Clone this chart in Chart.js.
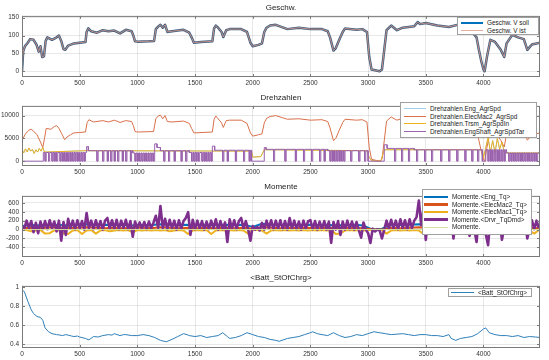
<!DOCTYPE html>
<html>
<head>
<meta charset="utf-8">
<script src="https://cdn.jsdelivr.net/npm/chart.js@4.4.0/dist/chart.umd.min.js"></script>
<style>
  body { margin: 0; background: #fff; }
  #fig { position: relative; width: 549px; height: 360px; overflow: hidden; font-family: "Liberation Sans", Arial, sans-serif; }
  canvas { position: absolute; left: 0; }
  .ttl { position: absolute; left: 22px; width: 518px; text-align: center; font-size: 8px; line-height: 10px; color: #222; }
  .lg { position: absolute; background: #fff; border: 1px solid #a0a0a0; font-size: 6.4px; color: #222; box-sizing: border-box; }
  .lg div { display: flex; align-items: center; height: 7.6px; line-height: 7.6px; white-space: nowrap; }
  .lg i { display: inline-block; flex: none; margin-right: 4px; }
</style>
</head>
<body>
<div id="fig">
  <canvas id="c1" width="549" height="79"></canvas>
  <canvas id="c2" width="549" height="78"></canvas>
  <canvas id="c3" width="549" height="79"></canvas>
  <canvas id="c4" width="549" height="80"></canvas>

  <div class="ttl" style="top:3px">Geschw.</div>
  <div class="ttl" style="top:93px">Drehzahlen</div>
  <div class="ttl" style="top:182px">Momente</div>
  <div class="ttl" style="top:273px">&lt;Batt_StOfChrg&gt;</div>

  <div class="lg" style="left:457px;top:17px;width:82px;height:18px;padding-top:1px">
    <div><i style="margin-left:3px;width:22px;height:2.5px;background:#0072bd"></i>Geschw. V soll</div>
    <div><i style="margin-left:3px;width:22px;height:1px;background:#e3aea0"></i>Geschw. V ist</div>
  </div>
  <div class="lg" style="left:400px;top:102px;width:137px;height:36px;padding-top:2px">
    <div><i style="margin-left:3px;width:22px;height:1px;background:#9fcfea"></i>Drehzahlen.Eng_AgrSpd</div>
    <div><i style="margin-left:3px;width:22px;height:1px;background:#d9704a"></i>Drehzahlen.ElecMac2_AgrSpd</div>
    <div><i style="margin-left:3px;width:22px;height:1px;background:#edb120"></i>Drehzahlen.Trsm_AgrSpdIn</div>
    <div><i style="margin-left:3px;width:22px;height:1px;background:#9a62ad"></i>Drehzahlen.EngShaft_AgrSpdTar</div>
  </div>
  <div class="lg" style="left:422px;top:189px;width:110px;height:46px;padding-top:3px">
    <div><i style="margin-left:1px;width:24px;height:2.5px;background:#0072bd"></i>Momente.&lt;Eng_Tq&gt;</div>
    <div><i style="margin-left:1px;width:24px;height:2.5px;background:#d95319"></i>Momente.&lt;ElecMac2_Tq&gt;</div>
    <div><i style="margin-left:1px;width:24px;height:2.5px;background:#edb120"></i>Momente.&lt;ElecMac1_Tq&gt;</div>
    <div><i style="margin-left:1px;width:24px;height:2.5px;background:#7e2f8e"></i>Momente.&lt;Drvr_TqDmd&gt;</div>
    <div><i style="margin-left:1px;width:24px;height:1px;background:#d3e2a2"></i>Momente.</div>
  </div>
  <div class="lg" style="left:448px;top:288px;width:84px;height:9px;padding-top:0px">
    <div><i style="margin-left:2px;width:23px;height:1px;background:#2f7fb8"></i>&lt;Batt_StOfChrg&gt;</div>
  </div>
</div>

<script>
// time axis
const xMax = 4490
const xTicks = [0, 500, 1000, 1500, 2000, 2500, 3000, 3500, 4000]

// Geschw. (time, speed)
const speedTicks = [0, 50, 100, 150]
const speedSoll = [
  [0, 0], [10, 55], [25, 70], [50, 80], [70, 90], [100, 88], [125, 75], [145, 55], [160, 70], [175, 40],
  [190, 42], [205, 85], [220, 95], [260, 88], [300, 95], [320, 100], [340, 85], [360, 62], [375, 60], [400, 72],
  [450, 78], [500, 80], [550, 82], [560, 110], [575, 120], [600, 112], [650, 108], [700, 115], [750, 112], [800, 114],
  [850, 106], [900, 116], [950, 112], [965, 100], [980, 84], [1000, 83], [1100, 84], [1145, 85], [1160, 118], [1180, 125],
  [1200, 130], [1220, 122], [1240, 130], [1260, 110], [1300, 112], [1400, 116], [1450, 108], [1470, 95], [1490, 80], [1550, 82],
  [1650, 84], [1665, 120], [1680, 128], [1700, 122], [1730, 110], [1745, 96], [1770, 115], [1800, 118], [1900, 118], [1950, 110],
  [1980, 80], [2000, 70], [2050, 74], [2080, 78], [2100, 110], [2120, 122], [2150, 128], [2200, 130], [2300, 118], [2400, 122],
  [2500, 118], [2600, 118], [2650, 112], [2670, 95], [2700, 58], [2720, 65], [2750, 88], [2780, 110], [2800, 120], [2900, 116],
  [2950, 118], [2990, 110], [3010, 40], [3030, 5], [3100, 0], [3120, 5], [3140, 60], [3160, 115], [3200, 128], [3250, 115],
  [3300, 122], [3400, 126], [3430, 138], [3450, 132], [3500, 135], [3600, 128], [3700, 124], [3800, 132], [3850, 118], [3900, 110],
  [3940, 95], [3960, 60], [3980, 30], [4000, 5], [4010, 0], [4030, 40], [4060, 88], [4100, 82], [4150, 60], [4180, 40],
  [4200, 78], [4250, 102], [4300, 95], [4350, 90], [4380, 60], [4420, 75], [4490, 80]
]
const speedIst = speedSoll // ist follows soll almost exactly

// Drehzahlen (time, rpm)
const rpmTicks = [0, 5000, 10000]
const elecMac2Spd = [
  [0, 4500], [30, 6000], [60, 6800], [80, 7000], [100, 6600], [130, 5800], [160, 4200], [180, 3000], [195, 5000], [210, 7200],
  [250, 7000], [280, 7600], [300, 7800], [320, 7200], [345, 6000], [370, 4700], [390, 5300], [420, 5800], [450, 6200], [500, 6300],
  [550, 6400], [565, 8500], [580, 9100], [620, 8600], [700, 8900], [750, 8600], [800, 9000], [850, 8500], [900, 8900], [950, 8700],
  [965, 7800], [980, 6500], [1000, 6400], [1140, 6500], [1160, 9300], [1180, 9900], [1200, 10100], [1220, 9300], [1240, 10000], [1260, 8700],
  [1300, 8600], [1400, 8800], [1450, 8300], [1470, 7200], [1490, 6200], [1650, 6400], [1665, 9200], [1680, 9900], [1700, 9300], [1730, 8400],
  [1745, 7400], [1770, 8900], [1800, 9000], [1900, 9000], [1950, 8300], [1980, 6200], [2000, 5500], [2050, 5800], [2080, 6000], [2100, 8400],
  [2120, 9400], [2150, 9800], [2200, 10000], [2300, 9200], [2400, 9300], [2500, 9000], [2600, 9100], [2650, 8700], [2670, 7300], [2700, 4500],
  [2720, 5000], [2750, 6800], [2780, 8500], [2800, 9200], [2900, 9000], [2950, 9100], [2990, 8600], [3010, 3000], [3030, 400], [3100, 0],
  [3120, 400], [3140, 4500], [3160, 8800], [3200, 9700], [3250, 9000], [3300, 9400], [3400, 9700], [3430, 10500], [3450, 10100], [3500, 10300],
  [3600, 9900], [3700, 9600], [3800, 10000], [3850, 9100], [3900, 8500], [3940, 7300], [3960, 4600], [3980, 2300], [4000, 400], [4010, 0],
  [4030, 3000], [4060, 6700], [4100, 6300], [4150, 4600], [4180, 3100], [4200, 6000], [4250, 7800], [4300, 7300], [4350, 6900], [4380, 4600],
  [4420, 5800], [4490, 6200]
]
const trsmSpd = [
  [0, 2600], [15, 1800], [30, 2700], [45, 2000], [60, 2900], [75, 2200], [90, 2600], [105, 1700], [120, 2500], [135, 2000],
  [150, 2800], [165, 2200], [180, 3000], [195, 2000], [560, 2300], [1990, 2200], [2000, 900], [2070, 1000], [2100, 2500], [2990, 2300],
  [3010, 800], [3030, 100], [3110, 0], [3140, 2500], [3990, 2500], [4000, 800], [4020, 3000], [4040, 5200], [4060, 2000], [4080, 4500],
  [4100, 1800], [4120, 5000], [4140, 2600], [4160, 4200], [4180, 2000], [4200, 1800], [4490, 1800]
]
const engSpd = trsmSpd // engine speed sits under the transmission input speed
// EngShaft target: [segment start, level] and the instants where it drops to 0
const shaftSegs = [
  [0, 0], [185, 1900], [560, 3200], [575, 2300], [960, 1800], [1150, 3800], [1170, 3000], [1200, 2300], [1450, 1900], [1650, 3300],
  [1670, 2400], [1990, 0], [2100, 3000], [2115, 2600], [2650, 2300], [3000, 0], [3140, 3600], [3165, 2800], [3400, 2500], [3990, 0],
  [4020, 2500], [4200, 1800]
]
const shaftDrops = [
  200, 230, 260, 280, 300, 330, 350, 370, 385, 400, 420, 440, 460, 480, 500, 520, 540,
  650, 700, 740, 770, 800, 830, 870, 900, 940,
  980, 1000, 1020, 1040, 1060, 1080, 1100, 1120, 1140,
  1230, 1270, 1320, 1380, 1420,
  1470, 1490, 1510, 1530, 1560, 1580, 1600, 1620, 1640,
  1740, 1780, 1850, 1920, 1970,
  2180, 2280, 2370, 2440, 2510, 2580, 2620,
  2670, 2690, 2710, 2730, 2750, 2770, 2790, 2850, 2920, 2970,
  3230, 3290, 3350, 3420, 3490, 3550, 3630, 3700, 3770, 3840, 3900, 3950,
  4040, 4060, 4080, 4100, 4120, 4140, 4160, 4180,
  4220, 4240, 4260, 4280, 4300, 4320, 4340, 4360, 4380, 4400, 4420, 4440, 4460
]

// Momente (sampled every momStep / mac1Step / tqStep)
const tqTicks = [-400, -200, 0, 200, 400, 600]
const momStep = 20
const drvrTq = [
  80, 20, 200, 40, 190, -60, 150, -80, 180, 10,
  190, 10, 210, 30, 180, -40, 200, -250, 170, -120,
  240, 20, 200, 10, 210, 30, 190, 0, 370, 30,
  200, 10, 210, 30, 190, 0, 200, 260, 20, 210,
  20, 220, 10, 200, 30, 220, 10, 190, -160, 180,
  30, 160, 20, 170, 10, 180, 30, 160, 310, 40,
  530, 30, 240, 10, 220, 30, 200, 0, 210, 20,
  190, 260, 390, -120, 220, 10, 200, 20, 190, 0,
  180, 10, 200, 20, 230, 0, 190, 10, 160, -280,
  230, 20, 210, 10, 190, 260, 20, 190, 10, -250,
  80, 0, 60, -20, 150, 0, 200, 20, 210, 10,
  200, 20, 210, 10, 190, 0, 260, 20, 200, 10,
  180, 0, 200, 20, 190, 210, 10, 190, 0, 180,
  10, 190, 0, 180, -300, 170, 0, 190, -120, 180,
  0, 200, 10, 180, 0, 170, -20, -180, 160, 0,
  -80, -300, 20, -40, 0, -20, -200, 0, 200, 20,
  220, 20, 200, 10, 230, 30, 210, 10, 230, 30,
  200, 280, 650, 100, 460, -230, 240, 20, 260, 30,
  240, 30, 260, 20, 230, 10, 220, -200, 240, 20,
  230, 10, 240, 30, -140, 220, 10, -280, 260, 30,
  220, -100, -350, 240, 20, 240, 10, 210, -230, 30,
  230, 10, 210, 0, 240, 20, 220, 10, 200, -200,
  20, 210, 10, 200, 30
]
const mac1Step = 40
const elecMac1Tq = [
  -10, -10, -40, -20, -10, -90, -80, -20, -10, -90, -100, -20, -10, -100, -20, -10, -90, -20, -10, -40,
  -20, -10, -20, -10, -60, -10, -20, -10, -20, -10, -20, -10, -40, -20, -10, -20, -100, -20, -10, -20,
  -10, -100, -20, -10, -20, -10, -20, -10, -20, -90, -10, -10, -20, -90, -20, -10, -20, -10, -20, -10,
  -20, -10, -20, -10, -20, -10, -20, -10, -100, -90, -20, -10, -20, -10, -20, -10, -10, -10, -10, -90,
  -20, -10, -20, -10, -20, -10, -20, -100, -20, -10, -20, -10, -20, -10, -20, -100, -20, -10, -20, -10,
  -100, -20, -10, -20, -10, -20, -10, -100, -20, -10, -20, -90, -10
]
const tqStep = 80
const engTq = [
  80, 100, 90, 110, 100, 90, 110, 120, 100, 110, 100, 110, 90, 105, 105, 120, 110, 100, 110, 100,
  110, 100, 110, 100, 110, 60, 130, 110, 100, 110, 100, 110, 100, 110, 90, 100, 110, 90, 0, 20,
  110, 100, 110, 120, 110, 100, 110, 100, 110, 100, 50, 110, 100, 110, 100, 110, 100
]
const elecMac2Tq = [
  30, 40, 30, 50, 40, 30, 40, 50, 40, 30, 40, 30, 40, 40, 30, 50, 40, 30, 40, 30,
  40, 30, 40, 30, 40, 20, 50, 40, 30, 40, 30, 40, 30, 40, 30, 40, 30, 30, 0, 0,
  40, 30, 40, 50, 40, 30, 40, 30, 40, 30, 20, 40, 30, 40, 30, 40, 30
]
const momenteRest = [[0, 0], [4490, 0]]

// Batt_StOfChrg
const socTicks = [0.4, 0.6, 0.8, 1]
const soc = [
  [0, 0.97], [20, 0.95], [50, 0.85], [80, 0.76], [100, 0.72], [130, 0.69], [160, 0.68], [180, 0.65], [200, 0.57], [230, 0.53],
  [260, 0.51], [300, 0.5], [330, 0.495], [350, 0.49], [380, 0.5], [400, 0.495], [430, 0.485], [450, 0.48], [480, 0.485], [500, 0.475],
  [550, 0.46], [580, 0.445], [620, 0.48], [660, 0.475], [700, 0.49], [750, 0.5], [780, 0.495], [800, 0.51], [850, 0.49], [880, 0.5],
  [900, 0.5], [950, 0.49], [1000, 0.49], [1050, 0.5], [1100, 0.49], [1150, 0.47], [1200, 0.44], [1250, 0.425], [1300, 0.45], [1350, 0.48],
  [1400, 0.51], [1430, 0.5], [1450, 0.49], [1500, 0.48], [1550, 0.49], [1600, 0.47], [1650, 0.48], [1700, 0.49], [1740, 0.52], [1780, 0.48],
  [1800, 0.46], [1850, 0.47], [1900, 0.49], [1950, 0.52], [2000, 0.5], [2050, 0.48], [2100, 0.47], [2150, 0.45], [2200, 0.44], [2230, 0.43],
  [2300, 0.46], [2350, 0.47], [2400, 0.48], [2450, 0.5], [2500, 0.52], [2520, 0.53], [2560, 0.51], [2600, 0.5], [2650, 0.49], [2700, 0.52],
  [2750, 0.49], [2800, 0.47], [2850, 0.48], [2900, 0.5], [2950, 0.49], [3000, 0.51], [3050, 0.53], [3100, 0.52], [3150, 0.51], [3200, 0.5],
  [3250, 0.505], [3300, 0.51], [3350, 0.5], [3400, 0.49], [3450, 0.5], [3500, 0.5], [3550, 0.49], [3600, 0.49], [3650, 0.48], [3700, 0.5],
  [3720, 0.46], [3760, 0.44], [3800, 0.46], [3850, 0.47], [3900, 0.48], [3950, 0.51], [4000, 0.56], [4020, 0.57], [4050, 0.52], [4100, 0.5],
  [4150, 0.49], [4200, 0.49], [4250, 0.48], [4300, 0.49], [4350, 0.47], [4400, 0.48], [4450, 0.475], [4490, 0.47]
]

const font = { family: "'Liberation Sans', Arial, sans-serif", size: 6.5 }
const gridColor = "rgba(0, 0, 0, 0.09)"

const pairs = (arr) => arr.map(([x, y]) => ({ x, y }))
const sampled = (vals, step) => vals.map((y, i) => ({ x: i * step, y }))

function buildShaft() {
  const pts = []
  shaftSegs.forEach(([start, level], i) => {
    const end = i + 1 < shaftSegs.length ? shaftSegs[i + 1][0] : xMax
    pts.push({ x: start, y: level })
    shaftDrops
      .filter((d) => d > start && d < end)
      .forEach((d) => {
        pts.push({ x: d, y: level }, { x: d, y: 0 }, { x: d + 10, y: 0 }, { x: d + 10, y: level })
      })
    pts.push({ x: end, y: level })
  })
  return pts
}

// MATLAB-like box with inner tick marks
const boxPlugin = {
  id: "box",
  afterDraw(chart) {
    const { ctx, chartArea: a, scales } = chart
    ctx.save()
    ctx.strokeStyle = "#7a7a7a"
    ctx.lineWidth = 1
    ctx.strokeRect(a.left + 0.5, a.top + 0.5, a.width - 1, a.height - 1)
    ctx.beginPath()
    scales.x.ticks.forEach((t) => {
      const px = Math.round(scales.x.getPixelForValue(t.value)) + 0.5
      ctx.moveTo(px, a.bottom)
      ctx.lineTo(px, a.bottom - 3)
      ctx.moveTo(px, a.top)
      ctx.lineTo(px, a.top + 3)
    })
    scales.y.ticks.forEach((t) => {
      const py = Math.round(scales.y.getPixelForValue(t.value)) + 0.5
      ctx.moveTo(a.left, py)
      ctx.lineTo(a.left + 3, py)
      ctx.moveTo(a.right, py)
      ctx.lineTo(a.right - 3, py)
    })
    ctx.stroke()
    ctx.restore()
  },
}

function makePanel(id, plotTop, plotBottom, yMin, yMax, yTicks, datasets) {
  const canvas = document.getElementById(id)
  canvas.style.top = plotTop - 5 + "px"
  canvas.height = plotBottom - plotTop + 5 + 11
  // first dataset in the list is drawn on top
  datasets.forEach((d, i) => (d.order = i))
  return new Chart(canvas.getContext("2d"), {
    type: "line",
    data: { datasets },
    options: {
      responsive: false,
      animation: false,
      devicePixelRatio: 1,
      layout: { padding: { top: 5, right: 9, left: 0, bottom: 0 } },
      plugins: { legend: { display: false }, tooltip: { enabled: false }, title: { display: false } },
      elements: { point: { radius: 0 }, line: { tension: 0, borderJoinStyle: "round" } },
      scales: {
        x: {
          type: "linear",
          min: 0,
          max: xMax,
          afterBuildTicks: (s) => { s.ticks = xTicks.map((v) => ({ value: v })) },
          afterFit: (s) => { s.height = 11 },
          grid: { color: gridColor, drawTicks: false },
          border: { display: false },
          ticks: { font, color: "#333", padding: 2, maxRotation: 0, autoSkip: false, callback: (v) => String(v) },
        },
        y: {
          type: "linear",
          min: yMin,
          max: yMax,
          afterBuildTicks: (s) => { s.ticks = yTicks.map((v) => ({ value: v })) },
          afterFit: (s) => { s.width = 22 },
          grid: { color: gridColor, drawTicks: false },
          border: { display: false },
          ticks: { font, color: "#333", padding: 3, autoSkip: false, callback: (v) => String(v) },
        },
      },
    },
    plugins: [boxPlugin],
  })
}

makePanel("c1", 14, 77, -16, 155, speedTicks, [
  { data: pairs(speedIst), borderColor: "rgba(214, 150, 135, 0.85)", borderWidth: 1 },
  { data: pairs(speedSoll), borderColor: "#3f5f80", borderWidth: 2.5 },
])

makePanel("c2", 104, 166, -1060, 12130, rpmTicks, [
  { data: buildShaft(), borderColor: "#9a62ad", borderWidth: 1 },
  { data: pairs(trsmSpd), borderColor: "#edb120", borderWidth: 1 },
  { data: pairs(elecMac2Spd), borderColor: "#d9704a", borderWidth: 1 },
  { data: pairs(engSpd), borderColor: "#9fcfea", borderWidth: 1 },
])

makePanel("c3", 194, 257, -615, 755, tqTicks, [
  { data: pairs(momenteRest), borderColor: "#d3e2a2", borderWidth: 1 },
  { data: sampled(drvrTq, momStep), borderColor: "#7e2f8e", borderWidth: 2.6 },
  { data: sampled(elecMac1Tq, mac1Step), borderColor: "#edb120", borderWidth: 2 },
  { data: sampled(elecMac2Tq, tqStep), borderColor: "#d95319", borderWidth: 2 },
  { data: sampled(engTq, tqStep), borderColor: "#0072bd", borderWidth: 2 },
])

makePanel("c4", 284, 348, 0.36, 1.01, socTicks, [
  { data: pairs(soc), borderColor: "#2f7fb8", borderWidth: 1 },
])
</script>
</body>
</html>
